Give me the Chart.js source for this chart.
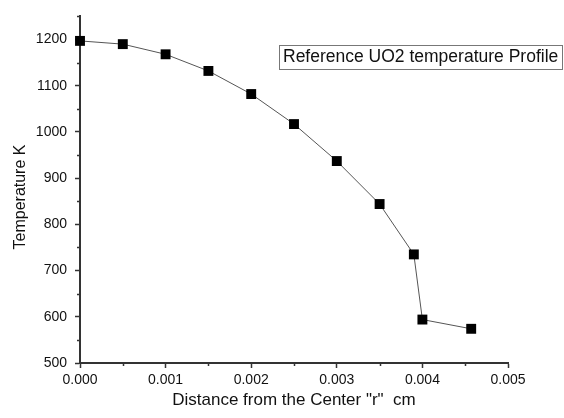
<!DOCTYPE html>
<html>
<head>
<meta charset="utf-8">
<script src="https://cdn.jsdelivr.net/npm/chart.js@4.4.1/dist/chart.umd.min.js"></script>
<style>
  html, body { margin: 0; padding: 0; background: #fff; }
  #wrap { width: 564px; height: 418px; }
</style>
</head>
<body>
<div id="wrap"><canvas id="chart" width="564" height="418"></canvas></div>
<script>
// radial temperature profile of the UO2 pellet
const radius = [0, 0.0005, 0.001, 0.0015, 0.002, 0.0025, 0.003, 0.0035, 0.0039, 0.004, 0.00457];
const temperature = [1197, 1190, 1168, 1132, 1082, 1017, 937, 844, 735, 594, 574];

const xTicks = [0, 0.001, 0.002, 0.003, 0.004, 0.005];
const xMinor = [0.0005, 0.0015, 0.0025, 0.0035, 0.0045];
const yTicks = [500, 600, 700, 800, 900, 1000, 1100, 1200];
const yMinor = [550, 650, 750, 850, 950, 1050, 1150, 1250];

const legendText = "Reference UO2 temperature Profile";
const xTitle = 'Distance from the Center "r"  cm';
const yTitle = "Temperature K";

const FONT = "'Liberation Sans', Arial, sans-serif";
const AXIS = "#333";

// minor ticks, axis titles and the framed legend
const extras = {
  id: "extras",
  afterDraw(chart) {
    const { ctx, scales: { x, y } } = chart;
    ctx.save();
    ctx.strokeStyle = AXIS;
    ctx.lineWidth = 1.5;
    ctx.beginPath();
    yMinor.forEach(v => {
      const py = Math.round(y.getPixelForValue(v)) + 0.5;
      ctx.moveTo(x.left - 3, py);
      ctx.lineTo(x.left, py);
    });
    xMinor.forEach(v => {
      const px = Math.round(x.getPixelForValue(v)) + 0.5;
      ctx.moveTo(px, y.bottom);
      ctx.lineTo(px, y.bottom + 3);
    });
    ctx.stroke();

    ctx.fillStyle = "#111";
    ctx.font = "17px " + FONT;
    ctx.textAlign = "center";
    ctx.textBaseline = "middle";
    ctx.fillText(xTitle, (x.left + x.right) / 2, 400);

    ctx.save();
    ctx.translate(21, 197);
    ctx.rotate(-Math.PI / 2);
    ctx.font = "16px " + FONT;
    ctx.fillText(yTitle, 0, 0);
    ctx.restore();

    ctx.strokeStyle = "#777";
    ctx.lineWidth = 1;
    ctx.strokeRect(279.5, 45.5, 283, 24);
    ctx.font = "17.5px " + FONT;
    ctx.fillStyle = "#111";
    ctx.textAlign = "left";
    ctx.fillText(legendText, 283, 57.5);
    ctx.restore();
  }
};

new Chart(document.getElementById("chart"), {
  type: "line",
  data: {
    datasets: [{
      data: radius.map((r, i) => ({ x: r, y: temperature[i] })),
      borderColor: "#555",
      borderWidth: 1,
      pointStyle: "rect",
      pointRadius: 7,
      pointBackgroundColor: "#000",
      pointBorderWidth: 0,
      tension: 0,
      clip: false
    }]
  },
  options: {
    responsive: false,
    animation: false,
    layout: { padding: { left: 0, top: 12, right: 56, bottom: 0 } },
    plugins: { legend: { display: false }, tooltip: { enabled: false } },
    scales: {
      x: {
        type: "linear",
        min: 0,
        max: 0.005,
        afterBuildTicks: s => { s.ticks = xTicks.map(v => ({ value: v })); },
        afterFit: s => { s.height = 55; },
        ticks: {
          color: "#111",
          font: { family: FONT, size: 14 },
          padding: 4,
          maxRotation: 0,
          callback: v => Number(v).toFixed(3)
        },
        grid: { drawOnChartArea: false, tickLength: 5, tickWidth: 1.5, tickColor: AXIS },
        border: { color: AXIS, width: 2 }
      },
      y: {
        min: 500,
        max: 1250,
        afterBuildTicks: s => { s.ticks = yTicks.map(v => ({ value: v })); },
        afterFit: s => { s.width = 80; },
        ticks: {
          color: "#111",
          font: { family: FONT, size: 14 },
          padding: 8,
          callback: v => String(v)
        },
        grid: { drawOnChartArea: false, tickLength: 5, tickWidth: 1.5, tickColor: AXIS },
        border: { color: AXIS, width: 2 }
      }
    }
  },
  plugins: [extras]
});
</script>
</body>
</html>
